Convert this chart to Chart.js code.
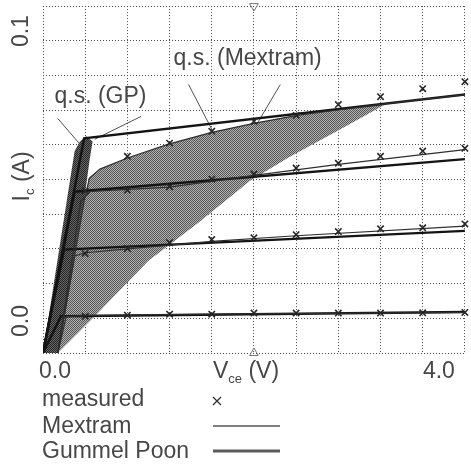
<!DOCTYPE html>
<html>
<head>
<meta charset="utf-8">
<title>Ic - Vce</title>
<script src="https://cdn.jsdelivr.net/npm/chart.js@4.4.1/dist/chart.umd.min.js"></script>
<style>
  html, body { margin: 0; padding: 0; background: #fff; }
</style>
</head>
<body>
<canvas id="ivChart" width="471" height="465"></canvas>
<script>
// --- sweep points (V) ---
const vce = [0.4, 0.8, 1.2, 1.6, 2.0, 2.4, 2.8, 3.2, 3.6, 4.0];

// --- measured Ic (A), one list per base step ---
const measured1 = [0.0106, 0.0109, 0.0112, 0.0112, 0.0115, 0.0115, 0.0115, 0.0115, 0.0116, 0.0117];
const measured2 = [0.0287, 0.0301, 0.0318, 0.0327, 0.0332, 0.0341, 0.0350, 0.0358, 0.0361, 0.0372];
const measured3 = [0.0467, 0.0470, 0.0479, 0.0501, 0.0516, 0.0533, 0.0547, 0.0567, 0.0582, 0.0590];
const measured4 = [null, 0.0567, 0.0605, 0.0639, 0.0668, 0.0685, 0.0716, 0.0739, 0.0762, 0.0782];

// --- Gummel Poon curves [V, A] ---
const gp1 = [[0, 0], [0.17, 0.0106], [4.0, 0.0118]];
const gp2 = [[0, 0], [0.20, 0.0298], [4.0, 0.0352]];
const gp3 = [[0, 0], [0.30, 0.0465], [4.0, 0.0559]];
const gp4 = [[0, 0], [0.39, 0.0619], [4.0, 0.0745]];

// --- Mextram curves [V, A] ---
const mx1 = [[0.14, 0], [0.22, 0.0105], [0.4, 0.0108], [1.2, 0.0111], [4.0, 0.0117]];
const mx2 = [[0.14, 0], [0.30, 0.0280], [0.4, 0.0289], [0.8, 0.0300], [1.6, 0.0322], [2.4, 0.0338], [4.0, 0.0366]];
const mx3 = [[0.14, 0], [0.36, 0.0440], [0.45, 0.0466], [1.2, 0.0478], [2.0, 0.0512], [2.8, 0.0544], [4.0, 0.0586]];
const mx4 = [[0.14, 0], [0.39, 0.0438], [0.44, 0.0504], [0.54, 0.0530], [0.80, 0.0562], [1.19, 0.0602],
             [1.60, 0.0636], [2.0, 0.0662], [2.41, 0.0685], [2.82, 0.0702], [3.26, 0.0719], [4.0, 0.0745]];

// --- quasi-saturation regions (outline, [V, A]) ---
const qsGP = [[0, 0], [0.225, 0.0438], [0.30, 0.0582], [0.35, 0.0610], [0.41, 0.0625],
              [0.47, 0.0610], [0.44, 0.0553], [0.39, 0.0438], [0.14, 0]];
const qsMextram = [[0.14, 0], [0.39, 0.0438], [0.44, 0.0504], [0.54, 0.0530], [0.80, 0.0562], [1.19, 0.0602],
                   [1.60, 0.0636], [2.0, 0.0662], [2.41, 0.0685], [2.82, 0.0702], [3.26, 0.0719],
                   [2.82, 0.0645], [2.32, 0.0562], [1.96, 0.0496], [1.47, 0.0375], [1.0, 0.0266], [0.49, 0.0106]];

// --- callouts: label position and leader lines [V, A] ---
const labelGP = [0.545, 0.0739];
const labelMextram = [1.94, 0.0848];
const leadersGP = [[[0.14, 0.0676], [0.35, 0.0602]], [[0.93, 0.0682], [0.49, 0.0616]]];
const leadersMextram = [[[1.38, 0.0774], [1.60, 0.0645]], [[2.25, 0.0774], [2.02, 0.0656]]];

// cursor marks at the top and bottom edges
const cursorV = [2.0];

const xMin = 0, xMax = 4.0, xStep = 0.4;
const yMin = 0, yMax = 0.1, yStep = 0.01;

const FONT = '"Liberation Sans", Arial, Helvetica, sans-serif';
const INK = '#474747';

const toXY = (pts) => pts.map(p => ({ x: p[0], y: p[1] }));
const zipMeasured = (vals) => vce.map((v, i) => ({ x: v, y: vals[i] })).filter(p => p.y !== null);

// halftone-like fill for the shaded regions
const makeDither = (dark, light) => {
  const c = document.createElement('canvas');
  c.width = 2; c.height = 2;
  const g = c.getContext('2d');
  g.fillStyle = light; g.fillRect(0, 0, 2, 2);
  g.fillStyle = dark; g.fillRect(0, 0, 1, 1); g.fillRect(1, 1, 1, 1);
  return g.createPattern(c, 'repeat');
};

const regionSet = (pts, fillStyle) => ({
  data: toXY(pts),
  fill: 'shape',
  backgroundColor: fillStyle,
  borderWidth: 0,
  pointRadius: 0,
  tension: 0,
  order: 10
});

const lineSet = (pts, width, color) => ({
  data: toXY(pts),
  fill: false,
  borderColor: color,
  borderWidth: width,
  pointRadius: 0,
  tension: 0,
  order: 5
});

const markerSet = (vals) => ({
  data: zipMeasured(vals),
  showLine: false,
  pointStyle: 'crossRot',
  pointRadius: 4.5,
  pointBorderWidth: 1.6,
  pointBorderColor: '#262626',
  clip: 8,
  order: 1
});

const datasets = [
  regionSet(qsMextram, makeDither('#585858', '#b0b0b0')),
  regionSet(qsGP, makeDither('#262626', '#666666')),
  lineSet(mx1, 1.2, '#2e2e2e'), lineSet(mx2, 1.2, '#2e2e2e'),
  lineSet(mx3, 1.2, '#2e2e2e'), lineSet(mx4, 1.2, '#2e2e2e'),
  lineSet(gp1, 2.4, '#141414'), lineSet(gp2, 2.4, '#141414'),
  lineSet(gp3, 2.4, '#141414'), lineSet(gp4, 2.4, '#141414'),
  markerSet(measured1), markerSet(measured2), markerSet(measured3), markerSet(measured4)
];

// leader lines of the two callouts
[...leadersGP, ...leadersMextram].forEach(seg => datasets.push(lineSet(seg, 1, '#505050')));

// cursor triangles
datasets.push({
  data: cursorV.map(v => ({ x: v, y: yMax })),
  showLine: false, pointStyle: 'triangle', rotation: 180,
  pointRadius: 5, pointBorderWidth: 1, pointBorderColor: '#777',
  pointBackgroundColor: 'rgba(0,0,0,0)', clip: false, order: 0
});
datasets.push({
  data: cursorV.map(v => ({ x: v, y: yMin })),
  showLine: false, pointStyle: 'triangle',
  pointRadius: 5, pointBorderWidth: 1, pointBorderColor: '#777',
  pointBackgroundColor: 'rgba(0,0,0,0)', clip: false, order: 0
});

// axis captions, tick ends, callout labels and the legend block
const textPlugin = {
  id: 'plotText',
  afterDraw(chart) {
    const { ctx, chartArea: a, scales: { x, y } } = chart;
    const big = '23px ' + FONT;
    const small = '13px ' + FONT;
    ctx.save();
    ctx.fillStyle = INK;
    ctx.textBaseline = 'alphabetic';

    // x tick ends
    ctx.font = big;
    ctx.textAlign = 'center';
    ctx.fillText('0.0', x.getPixelForValue(xMin) + 12, a.bottom + 25);
    ctx.fillText('4.0', x.getPixelForValue(xMax) - 26, a.bottom + 25);

    // x caption V_ce (V)
    ctx.textAlign = 'left';
    let cx = x.getPixelForValue(2.0) - 41;
    const by = a.bottom + 25;
    ctx.font = big; ctx.fillText('V', cx, by); cx += ctx.measureText('V').width;
    ctx.font = small; ctx.fillText('ce', cx, by + 5); cx += ctx.measureText('ce').width;
    ctx.font = big; ctx.fillText(' (V)', cx, by);

    // y tick ends and caption, rotated
    const vText = (txt, px, py) => {
      ctx.save();
      ctx.translate(px, py);
      ctx.rotate(-Math.PI / 2);
      ctx.textAlign = 'center';
      ctx.font = big;
      ctx.fillText(txt, 0, 0);
      ctx.restore();
    };
    vText('0.1', 28, y.getPixelForValue(yMax) + 25);
    vText('0.0', 28, y.getPixelForValue(yMin) - 32);

    ctx.save();
    ctx.translate(29, y.getPixelForValue(0.0437));
    ctx.rotate(-Math.PI / 2);
    ctx.textAlign = 'left';
    let ty = 0;
    ctx.font = big; ctx.fillText('I', ty, 0); ty += ctx.measureText('I').width;
    ctx.font = small; ctx.fillText('c', ty, 5); ty += ctx.measureText('c').width;
    ctx.font = big; ctx.fillText(' (A)', ty, 0);
    ctx.restore();

    // callout labels
    ctx.font = big;
    ctx.textAlign = 'center';
    ctx.textBaseline = 'middle';
    ctx.fillText('q.s. (GP)', x.getPixelForValue(labelGP[0]), y.getPixelForValue(labelGP[1]));
    ctx.fillText('q.s. (Mextram)', x.getPixelForValue(labelMextram[0]), y.getPixelForValue(labelMextram[1]));

    // legend
    ctx.textAlign = 'left';
    ctx.textBaseline = 'alphabetic';
    const lx = a.left - 1;
    ctx.fillText('measured', lx, 406);
    ctx.fillText('Mextram', lx, 433);
    ctx.fillText('Gummel Poon', lx, 458);

    ctx.strokeStyle = '#333';
    ctx.lineWidth = 1.3;
    ctx.beginPath();
    ctx.moveTo(213, 397); ctx.lineTo(221, 405);
    ctx.moveTo(221, 397); ctx.lineTo(213, 405);
    ctx.stroke();

    ctx.strokeStyle = '#555';
    ctx.lineWidth = 1.5;
    ctx.beginPath(); ctx.moveTo(213, 426); ctx.lineTo(280, 426); ctx.stroke();
    ctx.strokeStyle = '#5a5a5a';
    ctx.lineWidth = 3;
    ctx.beginPath(); ctx.moveTo(213, 451); ctx.lineTo(280, 451); ctx.stroke();

    ctx.restore();
  }
};

new Chart(document.getElementById('ivChart'), {
  type: 'line',
  data: { datasets },
  options: {
    responsive: false,
    animation: false,
    parsing: true,
    layout: { padding: { left: 43, right: 2, top: 4, bottom: 112 } },
    plugins: { legend: { display: false }, tooltip: { enabled: false } },
    scales: {
      x: {
        type: 'linear', min: xMin, max: xMax,
        ticks: { display: false, stepSize: xStep },
        grid: { color: '#4c4c4c', lineWidth: 1, drawTicks: false },
        border: { display: false, dash: [1, 2] }
      },
      y: {
        type: 'linear', min: yMin, max: yMax,
        ticks: { display: false, stepSize: yStep },
        grid: { color: '#4c4c4c', lineWidth: 1, drawTicks: false },
        border: { display: false, dash: [1, 2] }
      }
    }
  },
  plugins: [textPlugin]
});
</script>
</body>
</html>
